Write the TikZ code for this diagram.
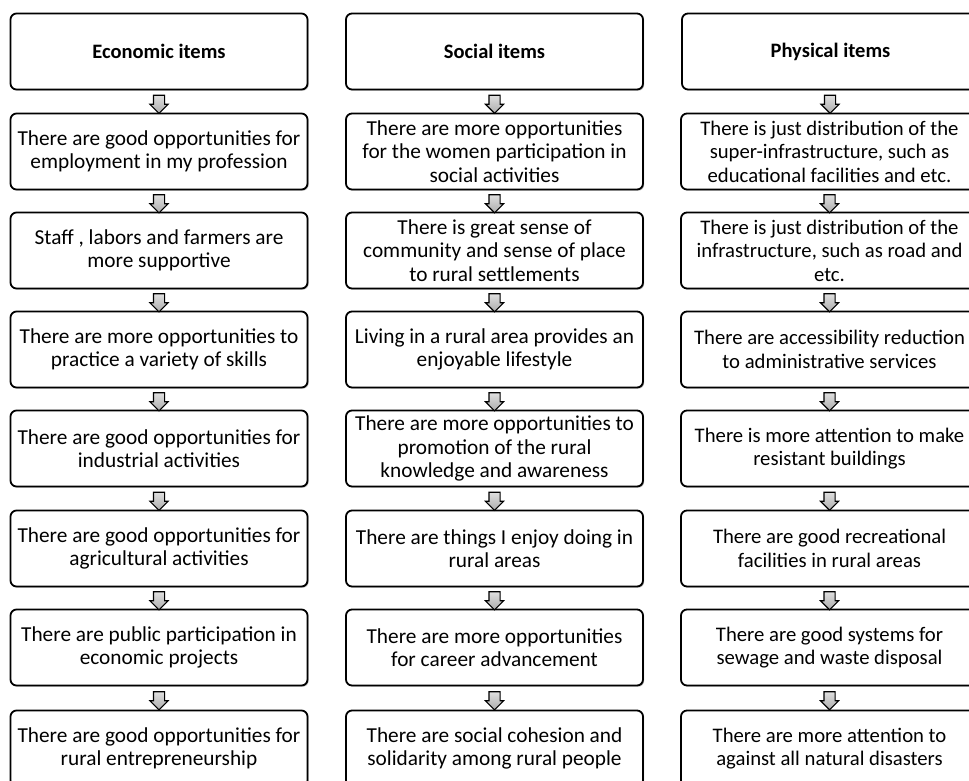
\documentclass[tikz,border=0pt]{standalone}
\usepackage{fontspec}
\setmainfont{Carlito}
\usetikzlibrary{shapes.arrows,shadows,calc}
\tikzset{
  itembox/.style={draw=black, line width=1.8pt, rounded corners=6pt, fill=white,
    minimum width=297pt, minimum height=76pt, align=center, inner sep=1pt,
    font=\fontsize{21.3}{23.5}\selectfont,
    drop shadow={shadow xshift=1.2pt, shadow yshift=-1.2pt, fill=black!45, opacity=0.6}},
  edgebox/.style={itembox, font=\fontsize{20.7}{23.5}\selectfont},
  headbox/.style={itembox, font=\fontsize{20.5}{23.5}\selectfont\bfseries},
  downarrow/.style={single arrow, draw=black, line width=1.1pt, shape border rotate=270,
    minimum height=18pt, minimum width=17pt, single arrow head extend=3.5pt,
    single arrow tip angle=90, inner sep=5pt, top color=gray!25, bottom color=gray!65}
}
\begin{document}
\begin{tikzpicture}[x=1pt,y=-1pt]
\useasboundingbox (0,0) rectangle (969,780);
\clip (0,0) rectangle (969,780);
% Economic column
\node[headbox] (e0) at (159,51.5) {Economic items};
\node[itembox] (e1) at (159,151.5) {There are good opportunities for\\employment in my profession};
\node[itembox] (e2) at (159,250.5) {Staff , labors and farmers are\\more supportive};
\node[itembox] (e3) at (159,349.5) {There are more opportunities to\\practice a variety of skills};
\node[itembox] (e4) at (159,448.5) {There are good opportunities for\\industrial activities};
\node[itembox] (e5) at (159,548.5) {There are good opportunities for\\agricultural activities};
\node[itembox] (e6) at (159,647.5) {There are public participation in\\economic projects};
\node[itembox] (e7) at (159,748.5) {There are good opportunities for\\rural entrepreneurship};
% Social column
\node[headbox] (s0) at (494.5,51.5) {Social items};
\node[itembox] (s1) at (494.5,151.5) {There are more opportunities\\for the women participation in\\social activities};
\node[itembox] (s2) at (494.5,250.5) {There is great sense of\\community and sense of place\\to rural settlements};
\node[itembox] (s3) at (494.5,349.5) {Living in a rural area provides an\\enjoyable lifestyle};
\node[itembox] (s4) at (494.5,448.5) {There are more opportunities to\\promotion of the rural\\knowledge and awareness};
\node[itembox] (s5) at (494.5,548.5) {There are things I enjoy doing in\\rural areas};
\node[itembox] (s6) at (494.5,647.5) {There are more opportunities\\for career advancement};
\node[itembox] (s7) at (494.5,748.5) {There are social cohesion and\\solidarity among rural people};
% Physical column
\node[headbox] (p0) at (830.5,51.5) {Physical items};
\node[edgebox] (p1) at (829.5,151.5) {There is just distribution of the\\super-infrastructure, such as\\educational facilities and etc.};
\node[edgebox] (p2) at (829.5,250.5) {There is just distribution of the\\infrastructure, such as road and\\etc.};
\node[edgebox] (p3) at (829.5,349.5) {There are accessibility reduction\\to administrative services};
\node[edgebox] (p4) at (829.5,448.5) {There is more attention to make\\resistant buildings};
\node[edgebox] (p5) at (829.5,548.5) {There are good recreational\\facilities in rural areas};
\node[edgebox] (p6) at (829.5,647.5) {There are good systems for\\sewage and waste disposal};
\node[edgebox] (p7) at (829.5,748.5) {There are more attention to\\against all natural disasters};
% arrows
\foreach \c in {e,s,p}{
  \foreach \i [count=\j] in {0,...,6}{
    \node[downarrow] (\c a\j) at ($(\c\i.south)!0.5!(\c\j.north)$) {};
  }
}
\end{tikzpicture}
\end{document}
